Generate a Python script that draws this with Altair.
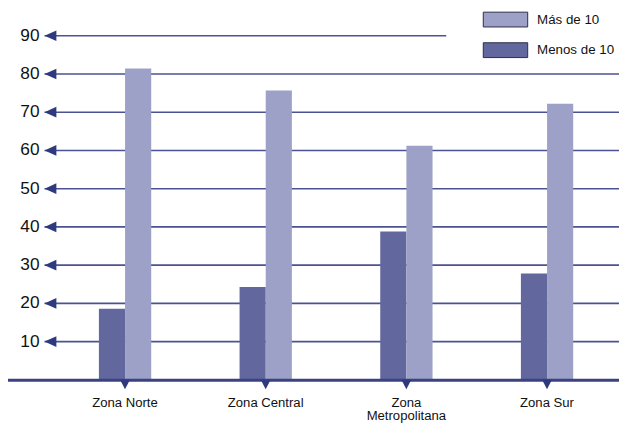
import altair as alt
import pandas as pd

zones = ["Zona Norte", "Zona Central", "Zona Metropolitana", "Zona Sur"]
mas_de_10 = [81.4, 75.7, 61.2, 72.2]
menos_de_10 = [18.6, 24.3, 38.8, 27.8]
series = ["Más de 10", "Menos de 10"]
y_ticks = [10, 20, 30, 40, 50, 60, 70, 80, 90]

rows = []
for z, a, b in zip(zones, mas_de_10, menos_de_10):
    rows.append({"Zona": z, "Grupo": "Menos de 10", "Valor": b})
    rows.append({"Zona": z, "Grupo": "Más de 10", "Valor": a})
df = pd.DataFrame(rows)
ticks_df = pd.DataFrame({"Valor": y_ticks})
zones_df = pd.DataFrame({"Zona": zones})

FONT = "Liberation Sans"
LIGHT = "#9ea1c7"
DARK = "#62679d"
GRID = "#4b5293"
NAVY = "#2f3a7e"

yscale = alt.Scale(domain=[0, 95], nice=False, zero=True)
xscale = alt.Scale(domain=zones, paddingInner=0, paddingOuter=0.042, align=0.86)

bars = alt.Chart(df).mark_bar().encode(
    x=alt.X("Zona:N", scale=xscale, sort=zones,
            axis=alt.Axis(title=None, domain=False, ticks=False, grid=False, labelAngle=0,
                          labelFont=FONT, labelFontSize=13.3, labelColor="#111111",
                          labelPadding=16, labelLineHeight=13.5,
                          labelExpr="datum.label == 'Zona Metropolitana' ? ['Zona', 'Metropolitana'] : datum.label")),
    xOffset=alt.XOffset("Grupo:N", sort=["Menos de 10", "Más de 10"],
                        scale=alt.Scale(paddingInner=0, paddingOuter=0, range=[44.8, 97.8])),
    y=alt.Y("Valor:Q", scale=yscale, axis=None),
    color=alt.Color("Grupo:N", scale=alt.Scale(domain=series, range=[LIGHT, DARK]),
                    legend=alt.Legend(title=None, orient="none", legendX=459, legendY=-5,
                                      symbolType="M-3,-1H3V1H-3Z", symbolSize=225,
                                      symbolStrokeColor="#2a2d45", symbolStrokeWidth=1,
                                      symbolOpacity=1,
                                      labelFont=FONT, labelFontSize=13.5, labelColor="#111111",
                                      labelOffset=24, rowPadding=11, padding=0)),
)

grid_main = alt.Chart(ticks_df).transform_filter("datum.Valor < 90").mark_rule(
    color=GRID, strokeWidth=1.6).encode(
    y=alt.Y("Valor:Q", scale=yscale, axis=None),
    x=alt.value(0), x2=alt.value(582))

grid_top = alt.Chart(ticks_df).transform_filter("datum.Valor == 90").mark_rule(
    color=GRID, strokeWidth=1.6).encode(
    y=alt.Y("Valor:Q", scale=yscale, axis=None),
    x=alt.value(0), x2=alt.value(407))

arrows = alt.Chart(ticks_df).mark_point(
    shape="M-1,0L1,-0.9L1,0.9Z", size=144, filled=True, color=NAVY, opacity=1).encode(
    y=alt.Y("Valor:Q", scale=yscale, axis=None),
    x=alt.value(6))

ylabels = alt.Chart(ticks_df).mark_text(
    align="right", baseline="middle", font=FONT, fontSize=17.5, color="#111111").encode(
    y=alt.Y("Valor:Q", scale=yscale, axis=None),
    x=alt.value(-5),
    text=alt.Text("Valor:Q"))

baseline = alt.Chart(ticks_df).transform_filter("datum.Valor == 10").mark_rule(
    color="#3a4283", strokeWidth=3).encode(
    y=alt.value(368.5), x=alt.value(-38), x2=alt.value(582))

down_ticks = alt.Chart(zones_df).mark_point(
    shape="M-1,-1L1,-1L0,0.9Z", size=100, filled=True, color=NAVY, opacity=1).encode(
    x=alt.X("Zona:N", scale=xscale, sort=zones),
    y=alt.value(373))

chart = alt.layer(grid_main, grid_top, arrows, ylabels, bars, baseline, down_ticks).properties(
    width=582, height=368,
    background="white",
    autosize=alt.AutoSizeParams(type="none"),
    padding={"left": 37, "top": 6, "right": 0, "bottom": 41},
).configure_view(strokeWidth=0, stroke="transparent").configure_axis(
    domain=False, grid=False, ticks=False
)

chart.save("out.html", embed_options={"renderer": "svg", "actions": False})
